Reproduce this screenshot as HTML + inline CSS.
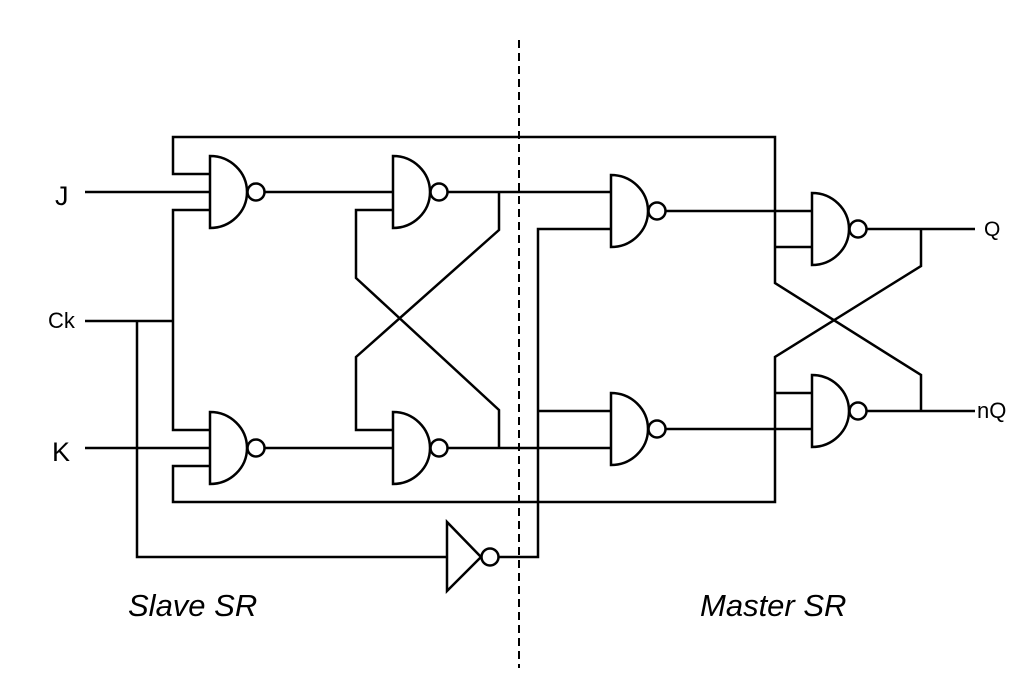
<!DOCTYPE html>
<html><head><style>html,body{margin:0;padding:0;background:#fff}svg{display:block}</style></head>
<body>
<svg width="1030" height="677" viewBox="0 0 1030 677" xmlns="http://www.w3.org/2000/svg">
<defs>
<g id="nand" fill="#fff" stroke="#000" stroke-width="2.5">
<path d="M0,-36 A37,36 0 0 1 0,36 Z"/>
<circle cx="46" cy="0" r="8.5"/>
</g>
</defs>
<g fill="none" stroke="#000" stroke-width="2.5">
<polyline points="210,174 173,174 173,137 775,137 775,283 921,375 921,411"/>
<polyline points="210,210 173,210 173,430 210,430"/>
<polyline points="210,466 173,466 173,502 775,502 775,357 921,266 921,229"/>
<line x1="775" y1="247" x2="812" y2="247"/>
<line x1="775" y1="393" x2="812" y2="393"/>
<line x1="85" y1="192" x2="210" y2="192"/>
<line x1="85" y1="448" x2="210" y2="448"/>
<line x1="85" y1="321" x2="173" y2="321"/>
<polyline points="137,321 137,557 447,557"/>
<line x1="265" y1="192" x2="393" y2="192"/>
<line x1="265" y1="448" x2="393" y2="448"/>
<polyline points="393,210 356,210 356,278 499,410 499,448"/>
<polyline points="393,430 356,430 356,357 499,230 499,192"/>
<polyline points="447,192 610,192"/>
<polyline points="447,448 610,448"/>
<polyline points="498,557 538,557 538,229 610,229"/>
<polyline points="538,411 610,411"/>
<line x1="666" y1="211" x2="812" y2="211"/>
<line x1="666" y1="429" x2="812" y2="429"/>
<line x1="866" y1="229" x2="975" y2="229"/>
<line x1="866" y1="411" x2="975" y2="411"/>
<path d="M447,522 L447,591 L481,557 Z" fill="#fff"/>
<circle cx="490" cy="557" r="8.5" fill="#fff"/>
</g>
<use href="#nand" x="210" y="192"/>
<use href="#nand" x="393" y="192"/>
<use href="#nand" x="210" y="448"/>
<use href="#nand" x="393" y="448"/>
<use href="#nand" x="611" y="211"/>
<use href="#nand" x="611" y="429"/>
<use href="#nand" x="812" y="229"/>
<use href="#nand" x="812" y="411"/>
<line x1="519" y1="40" x2="519" y2="668" stroke="#000" stroke-width="2" stroke-dasharray="8,5"/>
<g font-family="Liberation Sans, sans-serif" fill="#000">
<text x="55" y="205" font-size="27">J</text>
<text x="52" y="461" font-size="27">K</text>
<text x="48" y="328" font-size="22">Ck</text>
<text x="984" y="236" font-size="21">Q</text>
<text x="977" y="418" font-size="22">nQ</text>
<text x="128" y="616" font-size="31" font-style="italic">Slave SR</text>
<text x="700" y="616" font-size="31" font-style="italic">Master SR</text>
</g>
</svg>
</body></html>
